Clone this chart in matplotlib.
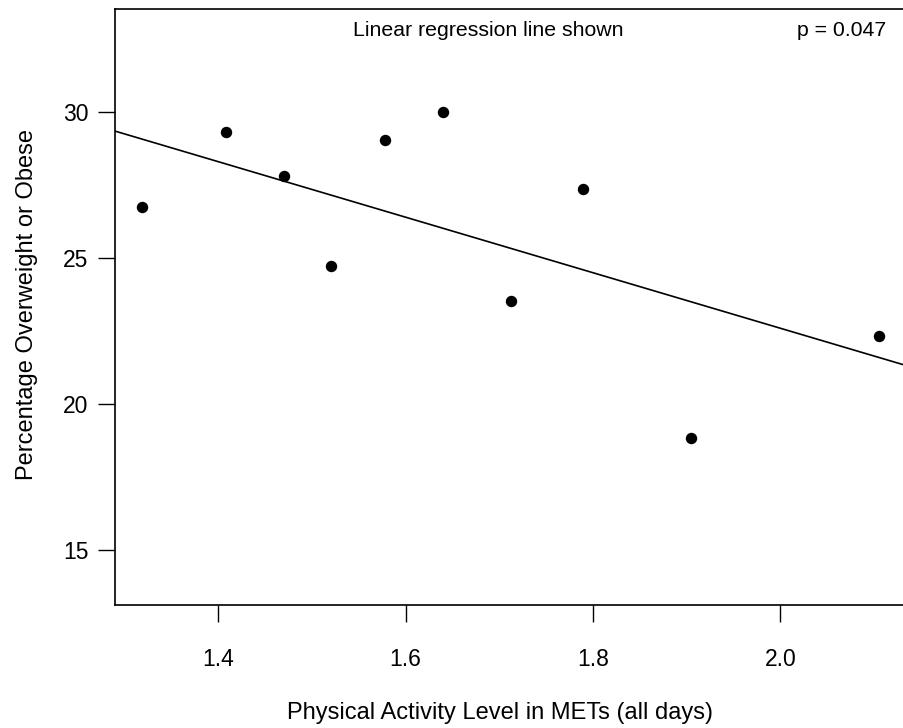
import numpy as np
import matplotlib
matplotlib.use('Agg')
from matplotlib import pyplot as plt

# activity level (METs) vs percentage overweight/obese
mets = [1.319, 1.408, 1.470, 1.520, 1.578, 1.640, 1.712, 1.789, 1.905, 2.105]
pct_overweight = [26.72, 29.30, 27.81, 24.72, 29.03, 30.00, 23.50, 27.35, 18.83, 22.33]
x_ticks = [1.4, 1.6, 1.8, 2.0]
y_ticks = [15, 20, 25, 30]
p_value = 0.047

plt.rcParams['font.family'] = ['Liberation Sans', 'DejaVu Sans']

fig = plt.figure(figsize=(9.04, 7.28), dpi=100)
ax = fig.add_axes([0.1272, 0.169, 0.8728, 0.818])

ax.scatter(mets, pct_overweight, s=52, color='black', zorder=3)

# linear regression
pendiente, corte = np.polyfit(mets, pct_overweight, 1)
x_min, x_max = 1.2897, 2.132
xs = np.array([x_min, x_max])
ax.plot(xs, corte + pendiente * xs, color='black', lw=1.2)

ax.set_xlim(x_min, x_max)
ax.set_ylim(13.1, 33.5)
ax.set_xticks(x_ticks)
ax.set_xticklabels(['%.1f' % t for t in x_ticks])
ax.set_yticks(y_ticks)

ax.spines['right'].set_visible(False)
for s in ['left', 'top', 'bottom']:
    ax.spines[s].set_linewidth(1.2)
ax.tick_params(direction='out', length=12, width=1.0, labelsize=16.5)
ax.tick_params(axis='x', pad=19)
ax.tick_params(axis='y', pad=7)

ax.set_xlabel('Physical Activity Level in METs (all days)', fontsize=17)
ax.set_ylabel('Percentage Overweight or Obese', fontsize=17)
ax.xaxis.set_label_coords(0.488, -0.163)
ax.yaxis.set_label_coords(-0.098, 0.505)

ax.text(0.473, 0.964, 'Linear regression line shown', transform=ax.transAxes,
        ha='center', va='center', fontsize=15.3)
ax.text(0.978, 0.964, 'p = %.3f' % p_value, transform=ax.transAxes,
        ha='right', va='center', fontsize=15.3)

fig.savefig('out.png', dpi=100)
